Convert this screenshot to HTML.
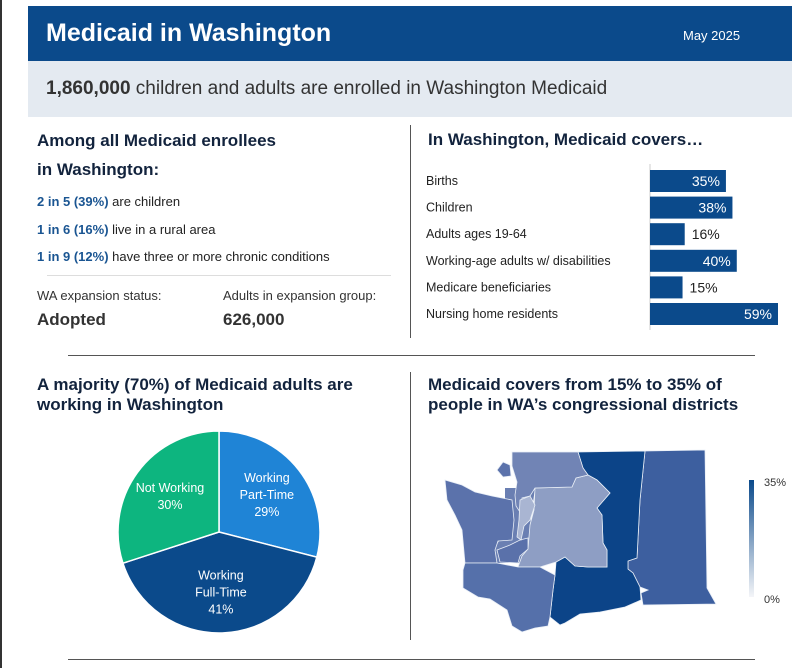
<!DOCTYPE html>
<html><head><meta charset="utf-8">
<style>
*{margin:0;padding:0;box-sizing:border-box}
body{width:810px;height:668px;background:#fff;font-family:"Liberation Sans",Arial,sans-serif;position:relative;overflow:hidden;color:#222}
.abs{position:absolute;white-space:nowrap}
.h{font-weight:bold;font-size:17px;color:#12233d}
.b{color:#1a5592;font-weight:bold}
.t13{font-size:13px;color:#222}
</style></head><body>
<div class="abs" style="left:0;top:0;width:2px;height:668px;background:#333"></div>
<div class="abs" style="left:28px;top:6px;width:764px;height:55px;background:#0b4a8b"></div>
<div class="abs" style="left:46px;top:19px;font-size:25px;font-weight:bold;color:#fff">Medicaid in Washington</div>
<div class="abs" style="left:683px;top:28px;font-size:13px;color:#fff">May 2025</div>
<div class="abs" style="left:28px;top:61px;width:764px;height:56px;background:#e4eaf1"></div>
<div class="abs" style="left:46px;top:78px;font-size:19px;color:#333"><b>1,860,000</b> children and adults are enrolled in Washington Medicaid</div>

<div class="abs h" style="left:37px;top:126px;line-height:29px">Among all Medicaid enrollees<br>in Washington:</div>
<div class="abs t13" style="left:37px;top:194px"><span class="b">2 in 5 (39%)</span> are children</div>
<div class="abs t13" style="left:37px;top:222px"><span class="b">1 in 6 (16%)</span> live in a rural area</div>
<div class="abs t13" style="left:37px;top:249px"><span class="b">1 in 9 (12%)</span> have three or more chronic conditions</div>
<div class="abs" style="left:47px;top:275px;width:344px;height:1px;background:#ddd"></div>
<div class="abs t13" style="left:37px;top:288px;color:#333">WA expansion status:</div>
<div class="abs" style="left:37px;top:310px;font-size:17px;font-weight:bold;color:#333">Adopted</div>
<div class="abs t13" style="left:223px;top:288px;color:#333">Adults in expansion group:</div>
<div class="abs" style="left:223px;top:310px;font-size:17px;font-weight:bold;color:#333">626,000</div>
<div class="abs" style="left:410px;top:125px;width:1px;height:213px;background:#555"></div>

<div class="abs h" style="left:428px;top:130px">In Washington, Medicaid covers…</div>
<svg class="abs" style="left:0;top:0" width="810" height="340" id="bars"></svg>

<div class="abs" style="left:68px;top:355px;width:687px;height:1px;background:#555"></div>
<div class="abs" style="left:410px;top:372px;width:1px;height:268px;background:#555"></div>
<div class="abs" style="left:68px;top:659px;width:687px;height:1px;background:#555"></div>

<div class="abs h" style="left:37px;top:375px;line-height:20px">A majority (70%) of Medicaid adults are<br>working in Washington</div>
<svg class="abs" style="left:0;top:420px" width="410" height="230" id="pie"></svg>

<div class="abs h" style="left:428px;top:375px;line-height:20px">Medicaid covers from 15% to 35% of<br>people in WA’s congressional districts</div>
<svg class="abs" style="left:0;top:0" width="810" height="668">
<defs><linearGradient id="lg" x1="0" y1="1" x2="0" y2="0"><stop offset="0" stop-color="#f4f5f8"/><stop offset="1" stop-color="#0b4a8b"/></linearGradient></defs>
<path fill="#6a7fb2" d="M505,488 L535,488 L530,525 L528,549 L520,563 L497,563 L495,548 L505,530 Z"/>
<g stroke="#e8eef6" stroke-width="0.8">
<path fill="#3d5f9f" d="M645,451 L705,450 L707,588 L716,604 L643,605 L641,593 L648,590 L640,587 L633,573 L628,569 L628,561 L637,558 L640,500 Z"/>
<path fill="#0c4488" d="M578,452 L645,451 L640,500 L637,558 L628,561 L628,569 L633,573 L640,587 L641,600 L625,607 L600,612 L580,614 L565,623 L560,625 L550,617 L553,590 L555,575 L556,562 L565,557 L575,566 L588,567 L607,567 L607,550 L603,543 L602,515 L597,508 L610,493 L597,480 L588,475 L583,468 Z"/>
<path fill="#8e9ec4" d="M535,488 L572,487 L576,478 L588,475 L597,480 L610,493 L597,508 L602,515 L603,543 L607,550 L607,567 L588,567 L575,566 L565,557 L556,562 L540,567 L518,567 L522,556 L528,549 L530,525 L534,510 Z"/>
<path fill="#7184b5" d="M512,452 L578,452 L583,468 L588,475 L576,478 L572,487 L535,488 L530,496 L522,498 L520,512 L516,506 L515,495 L517,482 L512,466 Z"/>
<path fill="#5b72ab" d="M445,480 L462,485 L475,492 L492,496 L512,500 L514,520 L512,540 L498,541 L495,550 L497,563 L465,563 L462,530 L455,515 L447,500 Z"/>
<path fill="#5570aa" d="M465,563 L497,563 L518,567 L540,567 L555,575 L553,590 L550,617 L548,626 L535,628 L522,632 L512,626 L507,610 L490,599 L478,597 L463,588 L463,570 Z"/>
<path fill="#5a71aa" d="M497,550 L510,545 L520,540 L528,538 L528,549 L520,556 L518,563 L500,562 Z"/>
<path fill="#a9b5d2" d="M520,500 L530,496 L535,505 L530,520 L524,526 L521,540 L517,537 L519,520 Z"/>
<path fill="#5b72ab" d="M497,470 L503,462 L510,465 L511,476 L503,477 Z"/>
</g>
<rect x="749" y="480" width="5" height="117" fill="url(#lg)"/>
<text x="764" y="486" font-size="11" fill="#333" font-family="Liberation Sans, sans-serif">35%</text>
<text x="764" y="603" font-size="11" fill="#333" font-family="Liberation Sans, sans-serif">0%</text>
</svg>

<script>
const barCategories=["Births","Children","Adults ages 19-64","Working-age adults w/ disabilities","Medicare beneficiaries","Nursing home residents"];
const barValues=[35,38,16,40,15,59];
const barLabels=["35%","38%","16%","40%","15%","59%"];
const pieCategories=["Working Part-Time","Working Full-Time","Not Working"];
const pieValues=[29,41,30];
const pieLabelLines=[["Working","Part-Time","29%"],["Working","Full-Time","41%"],["Not Working","30%"]];
const NS="http://www.w3.org/2000/svg";
function mk(tag,attrs,parent){const e=document.createElementNS(NS,tag);for(const k in attrs)e.setAttribute(k,attrs[k]);parent.appendChild(e);return e;}
(function(){
 const svg=document.getElementById('bars');
 const x0=650,scale=128/59,y0=170,step=26.6,bh=22;
 const xs=v=>x0+v*scale;
 const axis=mk('line',{x1:x0,x2:x0,y1:164,y2:330,stroke:'#ccc','stroke-width':1},svg);
 
 
 barCategories.forEach((c,i)=>{
  const y=y0+i*step;
  const lab=mk('text',{x:426,y:y+15,'font-size':12.5,fill:'#222','font-family':'Liberation Sans, sans-serif'},svg);
  lab.textContent=c;
  
  
  const r=mk('rect',{x:x0,y:y,width:xs(barValues[i])-x0,height:bh,fill:'#0b4a8b'},svg);
  
  
  const inside=barValues[i]>25;
  const t=mk('text',{x:inside?xs(barValues[i])-6:xs(barValues[i])+7,y:y+16,'font-size':14,fill:inside?'#fff':'#222','text-anchor':inside?'end':'start','font-family':'Liberation Sans, sans-serif'},svg);
  t.textContent=barLabels[i];
  
  
 });
})();
(function(){
 const svg=document.getElementById('pie');
 const cx=219,cy=112,r=101;
 const colors=["#1f84d6","#0b4a8b","#0db57f"];
 const total=pieValues.reduce((a,b)=>a+b,0);
 let a=0;
 pieValues.forEach((v,i)=>{
  const a1=a+v/total*2*Math.PI;
  const p=ang=>[cx+r*Math.sin(ang),cy-r*Math.cos(ang)];
  const [x1,y1]=p(a),[x2,y2]=p(a1);
  const s=mk('path',{d:`M${cx},${cy} L${x1},${y1} A${r},${r} 0 ${a1-a>Math.PI?1:0} 1 ${x2},${y2} Z`,fill:colors[i],stroke:'#fff','stroke-width':1.5},svg);
  
  
  const mid=(a+a1)/2,lr=r*0.6;
  const lx=cx+lr*Math.sin(mid),ly=cy-lr*Math.cos(mid);
  const lines=pieLabelLines[i];
  const t=mk('text',{x:lx,y:ly-(lines.length-1)*8.5+4,'font-size':12.5,fill:'#fff','text-anchor':'middle','font-family':'Liberation Sans, sans-serif'},svg);
  
  
  lines.forEach((ln,j)=>{const ts=mk('tspan',{x:lx,dy:j?17:0},t);ts.textContent=ln;});
  a=a1;
 });
})();
</script>
</body></html>
